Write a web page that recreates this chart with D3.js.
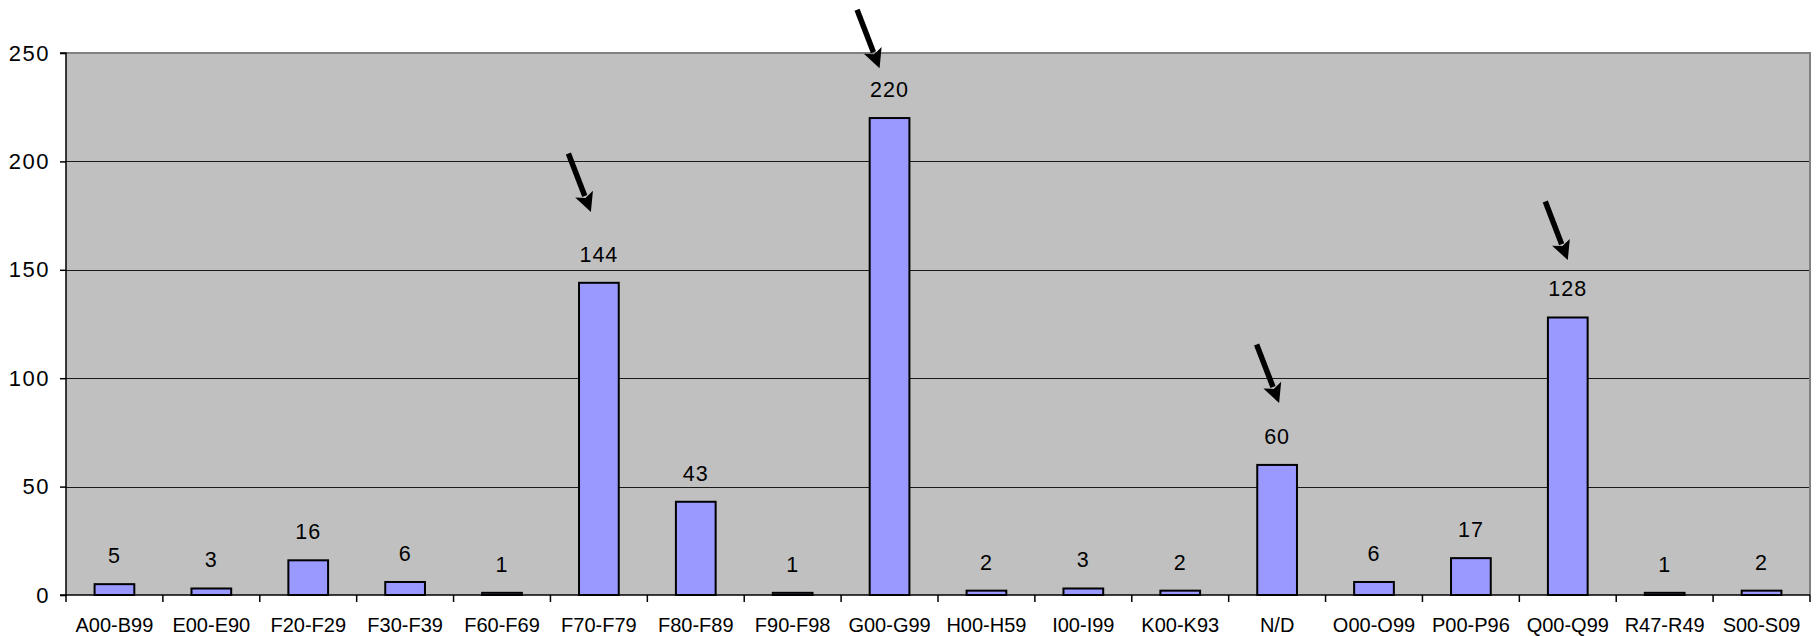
<!DOCTYPE html>
<html>
<head>
<meta charset="utf-8">
<script src="https://cdn.jsdelivr.net/npm/d3@7/dist/d3.min.js"></script>
<style>
  html, body { margin: 0; padding: 0; background: #ffffff; }
  svg { display: block; }
  text { font-family: "Liberation Sans", Arial, sans-serif; fill: #000; }
</style>
</head>
<body>
<svg id="chart" width="1816" height="636"></svg>
<script>
// ---- data ----
const categories = ["A00-B99","E00-E90","F20-F29","F30-F39","F60-F69","F70-F79","F80-F89","F90-F98","G00-G99","H00-H59","I00-I99","K00-K93","N/D","O00-O99","P00-P96","Q00-Q99","R47-R49","S00-S09"];
const values = [5,3,16,6,1,144,43,1,220,2,3,2,60,6,17,128,1,2];
const yTicks = [0,50,100,150,200,250];
// arrows: category they point at, and the value level of the arrow tip
const arrowCats = ["F70-F79","G00-G99","N/D","Q00-Q99"];
const arrowTipValues = [176.7, 243, 88.6, 154.5];
const arrowTipShift = [-8, -10, 2, 0];

// ---- layout ----
const svg = d3.select("#chart");
const mLeft = 66, mRight = 1810, mTop = 53, mBottom = 595;

const x = d3.scaleBand().domain(categories).range([mLeft, mRight]).padding(0);
const y = d3.scaleLinear().domain([0, 250]).range([mBottom, mTop]);
const barW = x.bandwidth() * 0.41;

// plot background
svg.append("rect")
  .attr("x", mLeft).attr("y", mTop)
  .attr("width", mRight - mLeft).attr("height", mBottom - mTop)
  .attr("fill", "#C0C0C0");

// gridlines
svg.append("g").selectAll("line")
  .data(yTicks.filter(d => d > 0 && d < 250))
  .join("line")
  .attr("x1", mLeft).attr("x2", mRight)
  .attr("y1", d => Math.round(y(d)) + 0.5).attr("y2", d => Math.round(y(d)) + 0.5)
  .attr("stroke", "#1a1a1a").attr("stroke-width", 1);

// plot border (gray) top & right
svg.append("path")
  .attr("d", `M${mLeft},${mTop}H${mRight}V${mBottom}`)
  .attr("fill", "none").attr("stroke", "#808080").attr("stroke-width", 2);

// bars
svg.append("g").selectAll("rect")
  .data(categories.map((c, i) => ({c, v: values[i]})))
  .join("rect")
  .attr("x", d => x(d.c) + (x.bandwidth() - barW) / 2)
  .attr("y", d => y(d.v))
  .attr("width", barW)
  .attr("height", d => y(0) - y(d.v))
  .attr("fill", "#9999FF")
  .attr("stroke", "#000").attr("stroke-width", 2);

// data labels
svg.append("g").selectAll("text")
  .data(categories.map((c, i) => ({c, v: values[i]})))
  .join("text")
  .attr("x", d => x(d.c) + x.bandwidth() / 2)
  .attr("y", d => y(d.v) - 21)
  .attr("text-anchor", "middle")
  .attr("font-size", 21.5)
  .attr("letter-spacing", 1)
  .text(d => d.v);

// y axis
const yAxis = d3.axisLeft(y).tickValues(yTicks).tickSize(6).tickPadding(10);
const gy = svg.append("g").attr("transform", `translate(${mLeft},0)`).call(yAxis);
gy.select(".domain").attr("stroke", "#000").attr("stroke-width", 1.5).attr("d", `M-6,${mTop}H0V${mBottom}H-6`);
gy.selectAll(".tick line").attr("stroke", "#000").attr("stroke-width", 1.5);
gy.selectAll("text").attr("font-size", 22).attr("letter-spacing", 1.5).attr("fill", "#000")
  .attr("font-family", "Liberation Sans, Arial, sans-serif");

// x axis
const gx = svg.append("g").attr("transform", `translate(0,${mBottom})`);
gx.append("line").attr("x1", mLeft).attr("x2", mRight).attr("y1", 0).attr("y2", 0)
  .attr("stroke", "#000").attr("stroke-width", 1.5);
const bounds = categories.map(c => x(c)).concat([mRight]);
gx.selectAll("line.tk").data(bounds).join("line").attr("class", "tk")
  .attr("x1", d => d).attr("x2", d => d).attr("y1", 0).attr("y2", 7)
  .attr("stroke", "#000").attr("stroke-width", 1.5);
gx.selectAll("text").data(categories).join("text")
  .attr("x", d => x(d) + x.bandwidth() / 2)
  .attr("y", 37)
  .attr("text-anchor", "middle")
  .attr("font-size", 20)
  .text(d => d);

// arrows
const arrowG = svg.append("g");
arrowCats.forEach((c, i) => {
  const tx = x(c) + x.bandwidth() / 2 + arrowTipShift[i];
  const ty = y(arrowTipValues[i]);
  const dx = 22.5, dy = 58.5;
  const len = Math.hypot(dx, dy);
  const ux = dx / len, uy = dy / len;
  const px = -uy, py = ux;
  const sx = tx - dx, sy = ty - dy;
  const headLen = 19, headHalf = 9.5;
  const bx = tx - ux * headLen, by = ty - uy * headLen;
  arrowG.append("line")
    .attr("x1", sx).attr("y1", sy)
    .attr("x2", bx + ux * 2).attr("y2", by + uy * 2)
    .attr("stroke", "#000").attr("stroke-width", 5.5);
  arrowG.append("path")
    .attr("d", `M${tx},${ty}L${bx + px * headHalf},${by + py * headHalf}L${bx + ux*4},${by + uy*4}L${bx - px * headHalf},${by - py * headHalf}Z`)
    .attr("fill", "#000");
});
</script>
</body>
</html>
